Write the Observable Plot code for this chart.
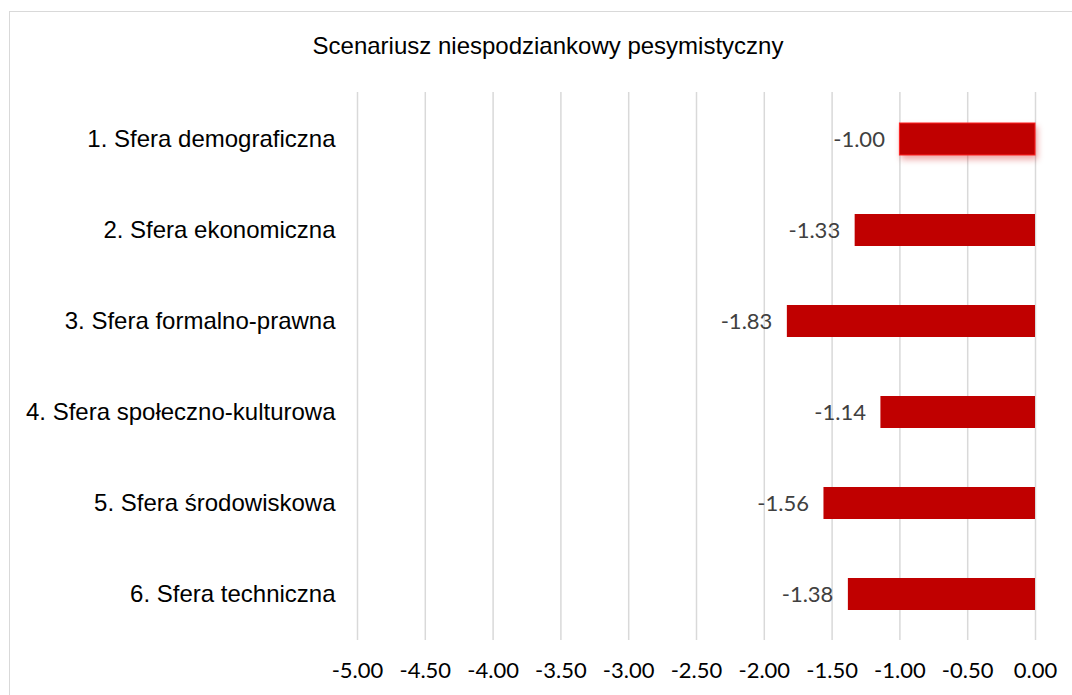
<!DOCTYPE html>
<html>
<head>
<meta charset="utf-8">
<script src="https://cdn.jsdelivr.net/npm/d3@7"></script>
<script src="https://cdn.jsdelivr.net/npm/@observablehq/plot@0.6"></script>
<style>
  html, body { margin: 0; padding: 0; background: #fff; }
  #wrap { position: relative; width: 1072px; height: 695px; overflow: hidden; background: #fff; }
  #frame { position: absolute; left: 9px; top: 11px; width: 1200px; height: 800px;
           border-top: 1px solid #d9d9d9; border-left: 1px solid #d9d9d9; box-sizing: border-box; }
  #title { position: absolute; left: 24px; top: 32px; width: 1048px; text-align: center;
           font-family: "Liberation Sans", Arial, sans-serif; font-size: 24px; line-height: 28px; color: #000; }
  #chart { position: absolute; left: 0; top: 70px; }
</style>
</head>
<body>
<div id="wrap">
  <div id="frame"></div>
  <div id="title">Scenariusz niespodziankowy pesymistyczny</div>
  <div id="chart"></div>
</div>
<script>
const categories = [
  "1. Sfera demograficzna",
  "2. Sfera ekonomiczna",
  "3. Sfera formalno-prawna",
  "4. Sfera społeczno-kulturowa",
  "5. Sfera środowiskowa",
  "6. Sfera techniczna"
];
const values = [-1.00, -1.33, -1.83, -1.14, -1.56, -1.38];
const xTicks = [-5, -4.5, -4, -3.5, -3, -2.5, -2, -1.5, -1, -0.5, 0];

const data = categories.map((c, i) => ({cat: c, value: values[i]}));

const plot = Plot.plot({
  width: 1072,
  height: 625,
  marginLeft: 357,
  marginRight: 37,
  marginTop: 22,
  marginBottom: 55,
  style: {background: "transparent", overflow: "visible"},
  x: {domain: [-5, 0]},
  y: {domain: categories, paddingInner: 0.65, paddingOuter: 0.325},
  marks: [
    Plot.gridX(xTicks, {stroke: "#d9d9d9", strokeOpacity: 1, strokeWidth: 1.5}),
    Plot.axisX({ticks: xTicks, tickFormat: d => d.toFixed(2), tickSize: 0, tickPadding: 22,
      fontSize: 22, fontFamily: "Lato, sans-serif", fill: "#000", label: null}),
    Plot.axisY({tickSize: 0, tickPadding: 22, fontSize: 24,
      fontFamily: "'Liberation Sans', Arial, sans-serif", fill: "#000", label: null}),
    Plot.barX(data, {x: "value", y: "cat", fill: "#c00000"}),
    Plot.text(data, {x: "value", y: "cat", text: d => d.value.toFixed(2), textAnchor: "end",
      dx: -15, fill: "#404040", fontSize: 22, fontFamily: "Lato, sans-serif"})
  ]
});
document.getElementById("chart").appendChild(plot);

// selection glow on the first bar, as in the reference
const firstBar = d3.select(plot).select("g[aria-label='bar'] rect");
firstBar.attr("stroke", "#ff2020").attr("stroke-width", 1)
  .style("filter", "drop-shadow(2px 4px 3px rgba(200,0,0,0.35))");
</script>
</body>
</html>
